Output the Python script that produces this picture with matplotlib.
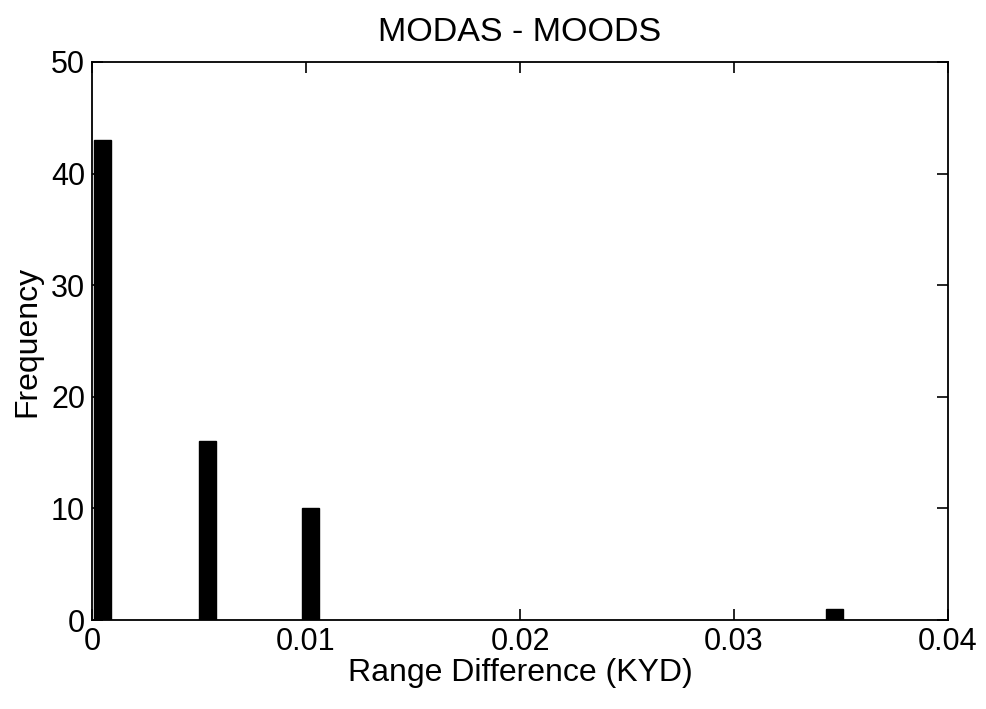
import matplotlib
matplotlib.use('Agg')
import matplotlib.pyplot as plt

# histogram bins
centers = [0.0005, 0.0054, 0.0102, 0.0347]
counts = [43, 16, 10, 1]
xticks = [0, 0.01, 0.02, 0.03, 0.04]
xticklabels = ['0', '0.01', '0.02', '0.03', '0.04']
yticks = [0, 10, 20, 30, 40, 50]

plt.rcParams['font.family'] = ['Liberation Sans', 'DejaVu Sans']

fig = plt.figure(figsize=(9.86, 7.09), dpi=100)
ax = fig.add_axes([0.0933, 0.1255, 0.8682, 0.7871])
ax.bar(centers, counts, width=0.0008, color='black', edgecolor='black')

ax.set_xlim(0, 0.04)
ax.set_ylim(0, 50)
ax.set_xticks(xticks)
ax.set_xticklabels(xticklabels)
ax.set_yticks(yticks)
ax.tick_params(direction='in', length=8, width=1.2, labelsize=22,
               top=True, right=True, pad=5)
for s in ax.spines.values():
    s.set_linewidth(1.3)

ax.set_title('MODAS - MOODS', fontsize=24.5, pad=15)
ax.set_xlabel('Range Difference (KYD)', fontsize=23, labelpad=1)
ax.set_ylabel('Frequency', fontsize=23, labelpad=6)

fig.savefig('out.png', dpi=100)
